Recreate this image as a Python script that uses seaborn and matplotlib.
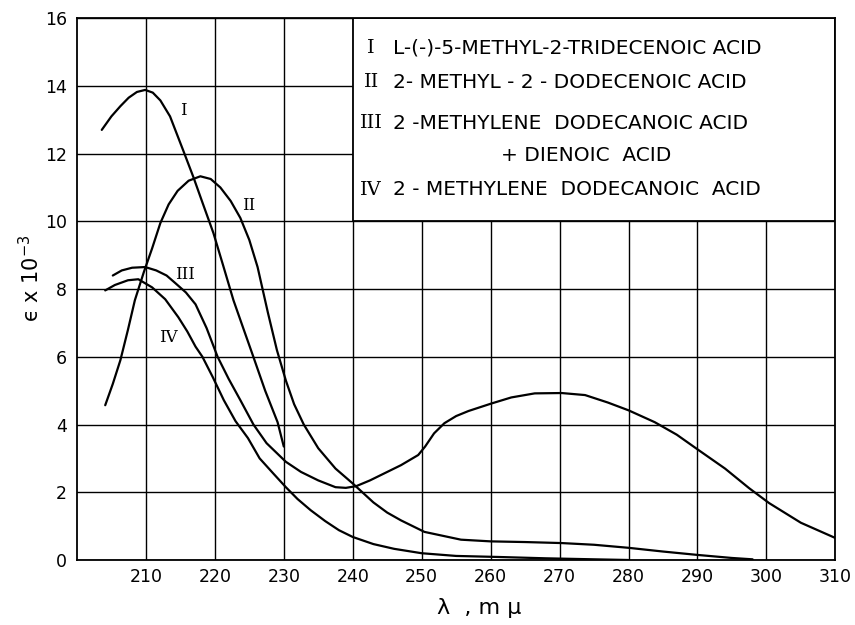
import pandas as pd
import matplotlib.pyplot as plt
import matplotlib.patches as mpatches
import seaborn as sns

# curve I : L-(-)-5-methyl-2-tridecenoic acid
wl_1 = [203.6, 205.0, 206.3, 207.5, 208.7, 209.9, 211.0, 212.1, 213.5, 215.4, 216.9, 218.3,
        219.8, 221.2, 222.7, 224.2, 225.5, 227.3, 229.1, 230.0]
eps_1 = [12.7, 13.1, 13.4, 13.65, 13.82, 13.88, 13.8, 13.57, 13.1, 12.1, 11.3, 10.5,
         9.65, 8.7, 7.67, 6.8, 6.05, 5.0, 4.07, 3.35]

# curve II : 2-methyl-2-dodecenoic acid
wl_2 = [204.1, 205.2, 206.3, 207.4, 208.4, 209.7, 210.9, 212.1, 213.3, 214.6, 216.2, 217.9,
        219.4, 220.8, 222.3, 223.7, 225.0, 226.2, 227.7, 229.0, 230.3, 231.5, 232.9, 235.0,
        237.5, 240.0, 243.0, 245.0, 247.0, 250.4, 255.7, 260.0, 265.0, 270.3, 275.0, 280.0,
        285.0, 290.0, 295.0, 298.0]
eps_2 = [4.57, 5.2, 5.9, 6.8, 7.67, 8.5, 9.2, 9.95, 10.5, 10.9, 11.2, 11.33,
         11.25, 11.0, 10.6, 10.1, 9.45, 8.65, 7.3, 6.2, 5.3, 4.6, 4.0, 3.3,
         2.7, 2.26, 1.7, 1.4, 1.17, 0.83, 0.6, 0.55, 0.53, 0.5, 0.45, 0.36,
         0.25, 0.15, 0.06, 0.02]

# curve III : 2-methylene dodecanoic acid + dienoic acid
wl_3 = [205.2, 206.5, 208.0, 209.9, 211.5, 213.0, 214.3, 215.8, 217.2, 218.8, 220.4, 222.0,
        223.7, 225.6, 227.5, 230.3, 232.5, 235.0, 237.5, 239.0, 240.5, 242.5, 244.5, 247.0,
        249.5, 250.5, 251.8, 253.3, 255.0, 256.8, 260.1, 263.0, 266.4, 270.3, 273.7, 277.0,
        280.0, 283.8, 287.0, 290.2, 294.0, 297.5, 300.4, 305.0, 310.0]
eps_3 = [8.4, 8.55, 8.63, 8.65, 8.55, 8.4, 8.17, 7.9, 7.55, 6.85, 6.0, 5.35,
         4.72, 4.0, 3.45, 2.9, 2.6, 2.35, 2.15, 2.13, 2.18, 2.35, 2.55, 2.8,
         3.1, 3.35, 3.74, 4.04, 4.25, 4.4, 4.62, 4.8, 4.92, 4.93, 4.87, 4.65,
         4.42, 4.07, 3.7, 3.24, 2.7, 2.12, 1.68, 1.1, 0.65]

# curve IV : 2-methylene dodecanoic acid
wl_4 = [204.1, 205.5, 207.4, 208.9, 210.9, 212.8, 214.7, 216.0, 217.2, 218.2, 219.7, 221.3,
        223.0, 224.8, 226.5, 228.5, 230.3, 232.0, 233.9, 236.0, 238.0, 240.0, 243.0, 246.0,
        250.0, 255.0, 261.0, 268.0, 275.0, 280.0]
eps_4 = [7.96, 8.12, 8.26, 8.29, 8.05, 7.7, 7.17, 6.75, 6.3, 6.0, 5.4, 4.72,
         4.1, 3.6, 3.0, 2.55, 2.15, 1.8, 1.47, 1.15, 0.88, 0.68, 0.47, 0.33,
         0.2, 0.12, 0.09, 0.05, 0.02, 0.0]

curve_names = ['I', 'II', 'III', 'IV']
curve_labels = [
    'L-(-)-5-METHYL-2-TRIDECENOIC ACID',
    '2- METHYL - 2 - DODECENOIC ACID',
    '2 -METHYLENE  DODECANOIC ACID',
    '2 - METHYLENE  DODECANOIC  ACID',
]
# where each roman numeral sits next to its curve
label_x = [215.4, 224.9, 215.7, 213.2]
label_y = [13.27, 10.47, 8.43, 6.58]

x_ticks = list(range(210, 311, 10))
y_ticks = list(range(0, 17, 2))

frames = []
for name, wl, eps in zip(curve_names, [wl_1, wl_2, wl_3, wl_4], [eps_1, eps_2, eps_3, eps_4]):
    frames.append(pd.DataFrame({'wavelength': wl, 'epsilon': eps, 'curve': name}))
spectra = pd.concat(frames, ignore_index=True)

sns.set_style('white')
plt.rcParams['font.family'] = ['DejaVu Sans']
plt.rcParams['text.color'] = 'black'
plt.rcParams['axes.labelcolor'] = 'black'
plt.rcParams['xtick.color'] = 'black'
plt.rcParams['ytick.color'] = 'black'

fig = plt.figure(figsize=(8.55, 6.25), dpi=100)
ax = fig.add_axes([0.090, 0.104, 0.887, 0.867])

sns.lineplot(data=spectra, x='wavelength', y='epsilon', units='curve', estimator=None,
             sort=False, color='black', linewidth=1.6, ax=ax, zorder=3)

ax.set_xlim(200, 310)
ax.set_ylim(0, 16)
ax.set_xticks(x_ticks)
ax.set_yticks(y_ticks)
ax.tick_params(length=0, labelsize=12.5)
ax.tick_params(axis='x', pad=6)
ax.tick_params(axis='y', pad=7)
ax.grid(True, color='black', linewidth=1.0)
ax.set_axisbelow(True)
for sp in ax.spines.values():
    sp.set_color('black')
    sp.set_linewidth(1.3)

ax.set_xlabel('λ  , m μ', fontsize=16)
ax.xaxis.set_label_coords(0.53, -0.07)
ax.set_ylabel('ϵ x 10$^{-3}$', fontsize=15)
ax.yaxis.set_label_coords(-0.045, 0.52)

# curve numerals
for name, lx, ly in zip(curve_names, label_x, label_y):
    ax.text(lx, ly, name, fontsize=12, family='DejaVu Serif', ha='center', va='center',
            zorder=4)

# key box in the upper right
box = mpatches.Rectangle((240, 10), 70, 6, facecolor='white', edgecolor='black',
                         linewidth=1.3, zorder=2.5)
ax.add_patch(box)

row_y = [0.944, 0.882, 0.806, 0.747, 0.683]
num_x = 0.388
desc_x = 0.417
rows = [(curve_names[0], curve_labels[0]), (curve_names[1], curve_labels[1]),
        (curve_names[2], curve_labels[2]), (None, '+ DIENOIC  ACID'),
        (curve_names[3], curve_labels[3])]
for (num, desc), ry in zip(rows, row_y):
    if num is None:
        ax.text(0.672, ry, desc, transform=ax.transAxes, fontsize=14.5, ha='center',
                va='center', zorder=4)
        continue
    ax.text(num_x, ry, num, transform=ax.transAxes, fontsize=14, family='DejaVu Serif',
            ha='center', va='center', zorder=4)
    ax.text(desc_x, ry, desc, transform=ax.transAxes, fontsize=14.5, ha='left',
            va='center', zorder=4)

fig.savefig('out.png', dpi=100)
